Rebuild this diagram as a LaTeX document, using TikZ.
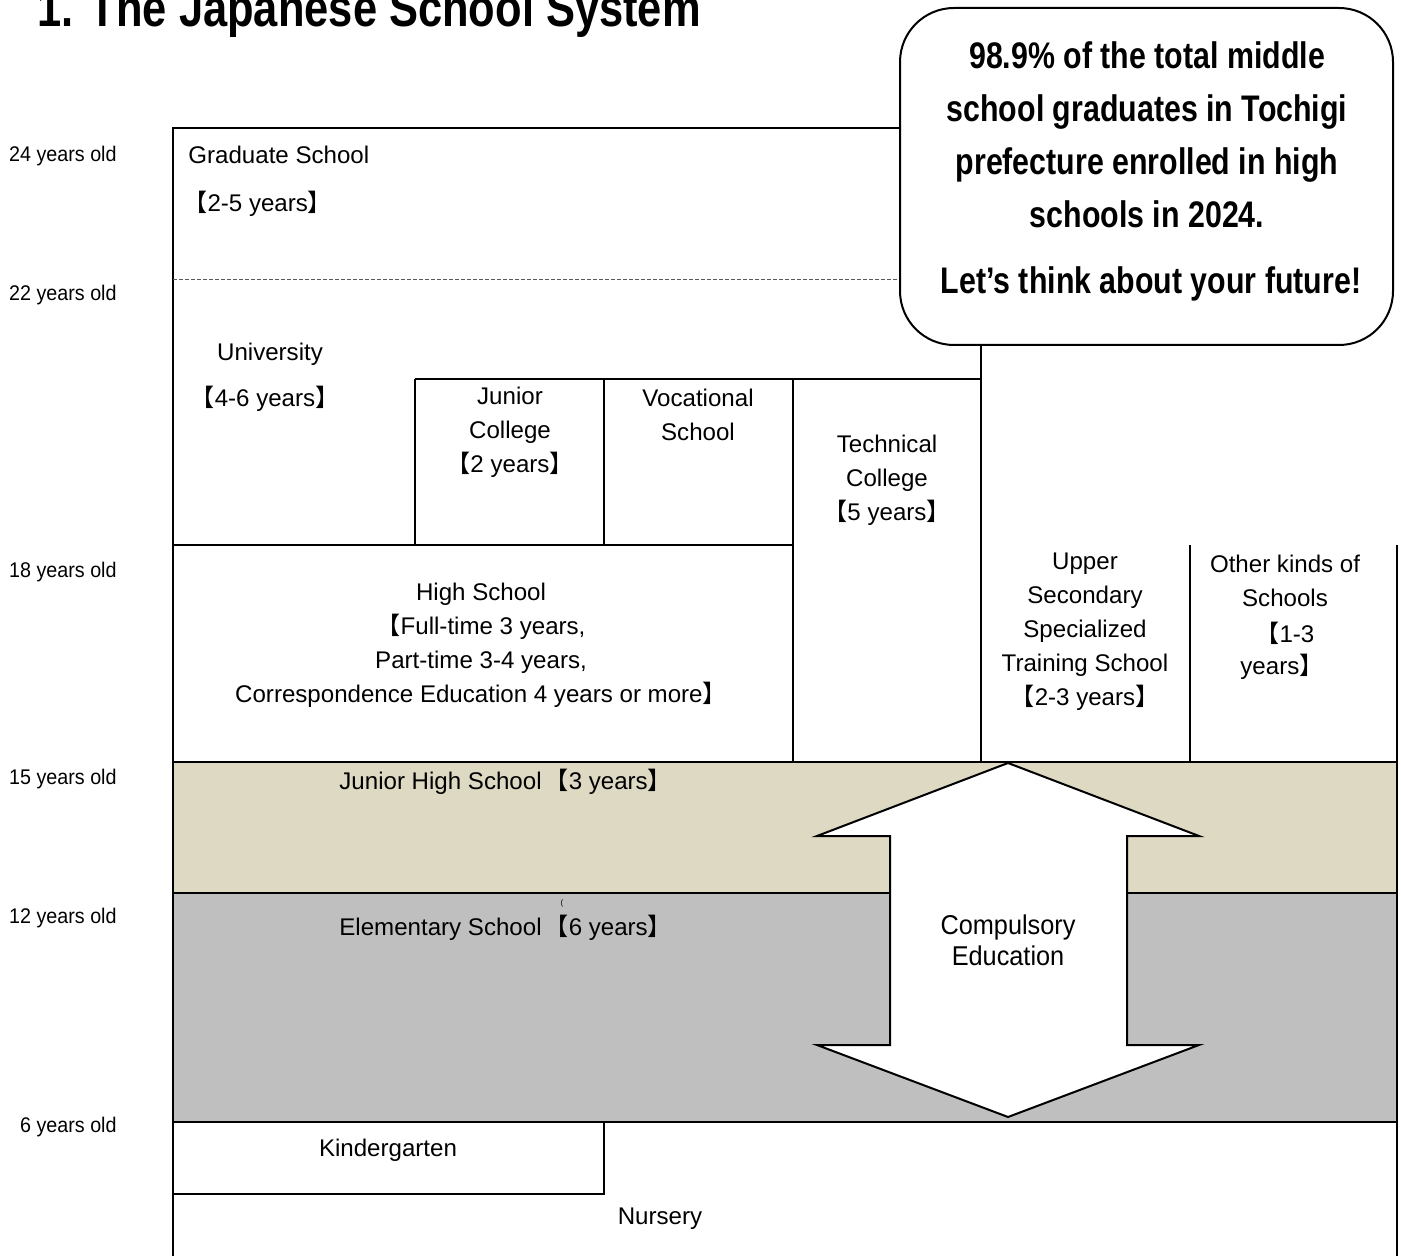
\documentclass[tikz,border=0pt]{standalone}
\usepackage{fontspec}
\setmainfont{Liberation Sans}
\newfontfamily\narrowfont[FakeStretch=0.82]{Liberation Sans}
\newfontfamily\semifont[FakeStretch=0.93]{Liberation Sans}
\newfontfamily\cjk{Noto Sans CJK JP}
\newcommand\lbk{{\cjk 【}}
\newcommand\rbk{{\cjk 】}}
\definecolor{beige}{HTML}{DDD9C3}
\definecolor{midgray}{HTML}{BFBFBF}
\begin{document}
\begin{tikzpicture}[x=0.5pt,y=-0.5pt,
  line/.style={line width=1pt},
  thickline/.style={line width=1.4pt},
  txt/.style={font=\fontsize{12.05}{17}\selectfont, align=center, inner sep=0pt},
  agetxt/.style={font=\semifont\fontsize{10.6}{12}\selectfont, inner sep=0pt, anchor=east},
  bold/.style={font=\narrowfont\bfseries\fontsize{18.5}{26.5}\selectfont, align=center, inner sep=0pt}]
\useasboundingbox (0,0) rectangle (1401,1256);
% bands
\fill[beige] (173,762) rectangle (1397,893);
\fill[midgray] (173,893) rectangle (1397,1122);
% frame and grid
\draw[line] (173,1256) -- (173,128) -- (981,128);
\draw[line width=0.5pt, gray!70!black, dash pattern=on 2pt off 1pt] (173,280) -- (981,280);
\draw[line] (981,128) -- (981,762);
\draw[line] (415,379) -- (981,379);
\draw[line] (415,379) -- (415,545);
\draw[line] (604,379) -- (604,545);
\draw[line] (793,379) -- (793,762);
\draw[line] (173,545) -- (793,545);
\draw[line] (1190,545) -- (1190,762);
\draw[line] (1397,545) -- (1397,1256);
\draw[thickline] (173,762) -- (1397,762);
\draw[thickline] (173,893) -- (1397,893);
\draw[thickline] (173,1122) -- (1397,1122);
\draw[line] (173,1194) -- (604,1194) -- (604,1122);
% compulsory arrow
\draw[line, fill=white, line join=miter] (1008,763) -- (1199,836) -- (1127,836) -- (1127,1045) -- (1199,1045) -- (1008,1117) -- (817,1045) -- (890,1045) -- (890,836) -- (817,836) -- cycle;
% callout
\draw[line, fill=white, rounded corners=27pt] (900,8) rectangle (1393,345);
% title
\node[anchor=base west, inner sep=0pt, font=\narrowfont\bfseries\fontsize{26.5}{30}\selectfont] (title) at (37,27) {1. The Japanese School System};
% callout text
\node[bold] (msg) at (1147,135) {98.9\% of the total middle\\school graduates in Tochigi\\prefecture enrolled in high\\schools in 2024.};
\node[bold] (future) at (1151,284) {Let’s think about your future!};
% ages
\node[agetxt] (a24) at (117,156) {24 years old};
\node[agetxt] (a22) at (117,295) {22 years old};
\node[agetxt] (a18) at (117,572) {18 years old};
\node[agetxt] (a15) at (117,779) {15 years old};
\node[agetxt] (a12) at (117,918) {12 years old};
\node[agetxt] (a6) at (117,1127) {6 years old};
% schools
\node[txt, anchor=west] (grad) at (188,155) {Graduate School};
\node[txt, anchor=west] (gradyr) at (183,204) {\lbk2-5 years\rbk};
\node[txt] (univ) at (270,354) {University};
\node[txt] (univyr) at (265,399) {\lbk4-6 years\rbk};
\node[txt] (jc) at (510,432) {Junior\\College\\\lbk2 years\rbk};
\node[txt] (voc) at (698,415) {Vocational\\School};
\node[txt] (tech) at (887,480) {Technical\\College\\\lbk5 years\rbk};
\node[txt] (hs) at (481,645) {High School\\\lbk Full-time 3 years,\\Part-time 3-4 years,\\Correspondence Education 4 years or more\rbk};
\node[txt] (usts) at (1085,632) {Upper\\Secondary\\Specialized\\Training School\\\lbk2-3 years\rbk};
\node[txt] (other1) at (1285,564) {Other kinds of};
\node[txt] (other2) at (1285,598) {Schools};
\node[txt, anchor=west] (other3) at (1255,633) {\lbk1-3};
\node[txt, anchor=west] (other4) at (1240,667) {years\rbk};
\node[txt, anchor=west] (jhs) at (339,782) {Junior High School\hspace{1.5pt}\lbk3 years\rbk};
\node[txt, anchor=west] (elem) at (339,928) {Elementary School\hspace{1.5pt}\lbk6 years\rbk};
\node[inner sep=0pt, font=\fontsize{4}{5}\selectfont] (stray) at (562,903) {(};
\node[font=\semifont\fontsize{13.6}{15.5}\selectfont, align=center, inner sep=0pt] (comp) at (1008,940) {Compulsory\\Education};
\node[txt] (kinder) at (388,1150) {Kindergarten};
\node[txt] (nursery) at (660,1219) {Nursery};
\end{tikzpicture}
\end{document}
